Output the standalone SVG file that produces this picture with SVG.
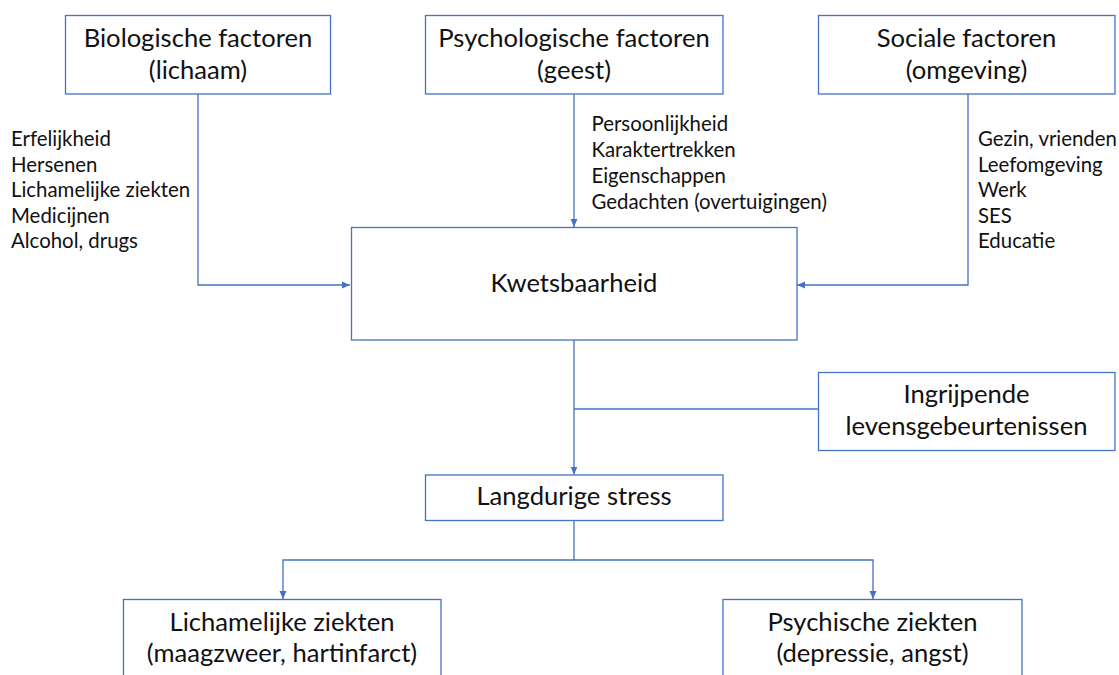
<svg xmlns="http://www.w3.org/2000/svg" width="1119" height="675" viewBox="0 0 1119 675">
<style>
.box{fill:#ffffff;stroke:#4472C4;stroke-width:1.3}
.t{font-family:Lato,"Liberation Sans",sans-serif;font-size:25.6px;fill:#111111;text-anchor:middle}
.l{font-family:Lato,"Liberation Sans",sans-serif;font-size:20.4px;fill:#111111}
.c{fill:none;stroke:#4472C4;stroke-width:1.3}
</style>
<defs>
<marker id="arr" markerUnits="userSpaceOnUse" markerWidth="9" markerHeight="8" refX="8" refY="4" orient="auto">
<path d="M0,0.5 L8,4 L0,7.5 z" fill="#4472C4"/>
</marker>
</defs>
<rect width="1119" height="675" fill="#ffffff"/>
<g id="connectors">
<path class="c" d="M198,94 V285 H350" marker-end="url(#arr)"/>
<path class="c" d="M574,94 V227" marker-end="url(#arr)"/>
<path class="c" d="M968,94 V285 H797" marker-end="url(#arr)"/>
<path class="c" d="M574,340 V474.5" marker-end="url(#arr)"/>
<path class="c" d="M818,409 H574"/>
<path class="c" d="M574,520 V560 H283 V599" marker-end="url(#arr)"/>
<path class="c" d="M574,560 H873 V599" marker-end="url(#arr)"/>
</g>
<g id="biologische">
<rect class="box" x="65.5" y="15.5" width="265" height="78.5"/>
<text class="t" x="198" y="47">Biologische factoren</text>
<text class="t" x="198" y="79">(lichaam)</text>
</g>
<g id="psychologische">
<rect class="box" x="425.5" y="15.5" width="297.5" height="78.5"/>
<text class="t" x="574" y="47">Psychologische factoren</text>
<text class="t" x="574" y="79">(geest)</text>
</g>
<g id="sociale">
<rect class="box" x="818.5" y="15.5" width="296.5" height="78.5"/>
<text class="t" x="966.5" y="47">Sociale factoren</text>
<text class="t" x="966.5" y="79">(omgeving)</text>
</g>
<g id="bio-list">
<text class="l" x="11" y="145.5">Erfelijkheid</text>
<text class="l" x="11" y="171.5">Hersenen</text>
<text class="l" x="11" y="197">Lichamelijke ziekten</text>
<text class="l" x="11" y="222.5">Medicijnen</text>
<text class="l" x="11" y="248">Alcohol, drugs</text>
</g>
<g id="psych-list">
<text class="l" x="591.5" y="130.5">Persoonlijkheid</text>
<text class="l" x="591.5" y="156.5">Karaktertrekken</text>
<text class="l" x="591.5" y="182.5">Eigenschappen</text>
<text class="l" x="591.5" y="208.5">Gedachten (overtuigingen)</text>
</g>
<g id="sociale-list">
<text class="l" x="978" y="145.5">Gezin, vrienden</text>
<text class="l" x="978" y="171.5">Leefomgeving</text>
<text class="l" x="978" y="197">Werk</text>
<text class="l" x="978" y="222.5">SES</text>
<text class="l" x="978" y="248">Educatie</text>
</g>
<g id="kwetsbaarheid">
<rect class="box" x="351.5" y="227.5" width="445.5" height="112.5"/>
<text class="t" x="574" y="292">Kwetsbaarheid</text>
</g>
<g id="ingrijpende">
<rect class="box" x="818.5" y="372.5" width="296.5" height="78"/>
<text class="t" x="966.5" y="403">Ingrijpende</text>
<text class="t" x="966.5" y="435">levensgebeurtenissen</text>
</g>
<g id="langdurige">
<rect class="box" x="425.5" y="475" width="297.5" height="45.5"/>
<text class="t" x="574" y="505">Langdurige stress</text>
</g>
<g id="lichamelijke">
<rect class="box" x="123.5" y="599.5" width="317.5" height="100"/>
<text class="t" x="282" y="630.5">Lichamelijke ziekten</text>
<text class="t" x="282" y="662">(maagzweer, hartinfarct)</text>
</g>
<g id="psychische">
<rect class="box" x="723" y="599.5" width="299" height="100"/>
<text class="t" x="872.5" y="630.5">Psychische ziekten</text>
<text class="t" x="872.5" y="662">(depressie, angst)</text>
</g>
</svg>
